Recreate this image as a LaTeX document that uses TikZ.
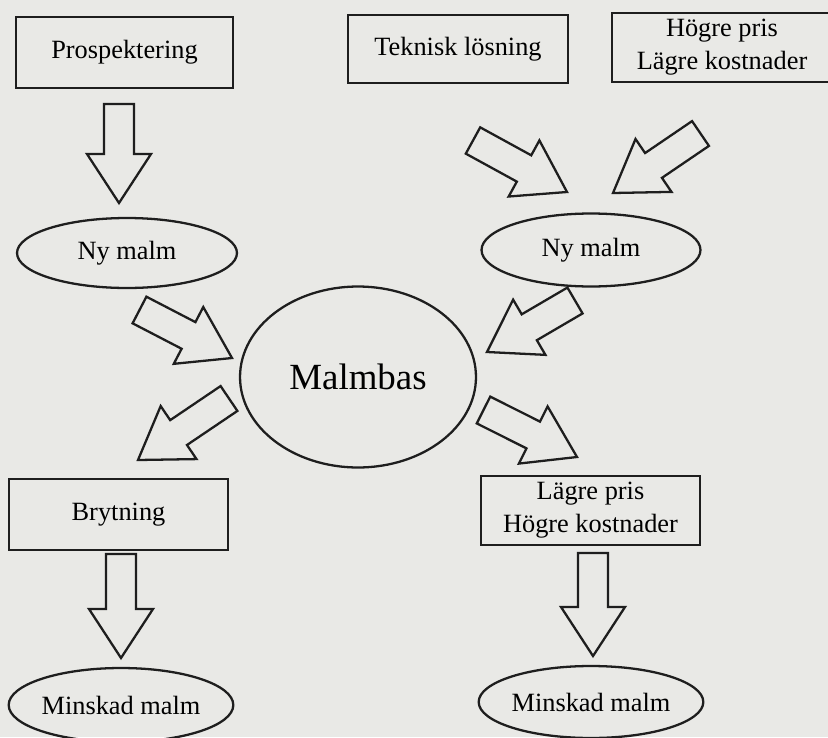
\documentclass[tikz,border=0pt]{standalone}
\usepackage{fontspec}
\setmainfont{Liberation Serif}
\usetikzlibrary{calc,shapes.geometric}
\definecolor{paper}{RGB}{233,233,230}
\definecolor{ink}{RGB}{30,30,30}
\tikzset{
  box/.style={draw=ink,line width=1.3pt,rectangle,minimum width=#1,minimum height=1.4cm,
    align=center,inner sep=0pt,font=\fontsize{15}{18.8}\selectfont},
  box/.default=4.36cm,
  oval/.style={draw=ink,line width=1.3pt,ellipse,minimum width=#1,minimum height=1.44cm,
    inner sep=0pt,font=\fontsize{15}{18.8}\selectfont},
  oval/.default=4.38cm,
  % hollow block arrow from tail to tip
  bigarrow/.style={draw=ink,line width=1.3pt,line join=miter,
    to path={let \p1=($(\tikztotarget)!0.98cm!(\tikztostart)$) in
      ($(\tikztostart)!0.3cm!90:(\tikztotarget)$) --
      ($(\p1)!0.3cm!-90:(\tikztostart)$) --
      ($(\p1)!0.64cm!-90:(\tikztostart)$) --
      (\tikztotarget) --
      ($(\p1)!0.64cm!90:(\tikztostart)$) --
      ($(\p1)!0.3cm!90:(\tikztostart)$) --
      ($(\tikztostart)!0.3cm!-90:(\tikztotarget)$) -- cycle}},
}
\begin{document}
\begin{tikzpicture}[x=0.02cm,y=-0.02cm]
  \fill[paper] (0,0) rectangle (828,737);
  \useasboundingbox (0,0) rectangle (828,737);

  % top row
  \node[box=4.34cm,minimum height=1.42cm] (prosp) at (124.5,52.5) {Prospektering};
  \node[box=4.4cm,minimum height=1.36cm] (tek) at (458,49) {Teknisk lösning};
  \node[box=4.4cm,minimum height=1.38cm] (hpris) at (722,47.5) {Högre pris\\Lägre kostnader};

  % new ore
  \node[oval=4.4cm,minimum height=1.4cm] (nyL) at (127,253) {Ny malm};
  \node[oval=4.38cm,minimum height=1.46cm] (nyR) at (591,250) {Ny malm};

  % ore base
  \node[oval=4.72cm,minimum height=3.62cm,font=\fontsize{21}{25}\selectfont] (malm) at (358,377) {Malmbas};

  % losses
  \node[box=4.38cm,minimum height=1.42cm] (bryt) at (118.5,514.5) {Brytning};
  \node[box=4.38cm,minimum height=1.38cm] (lpris) at (590.5,510.5) {Lägre pris\\Högre kostnader};
  \node[oval=4.36cm,minimum height=1.48cm] (minL) at (121,705) {Minskad malm};
  \node[oval=4.38cm,minimum height=1.44cm] (minR) at (591,702) {Minskad malm};

  % arrow ends
  \coordinate (s1) at (119,104);   \coordinate (e1) at (119,203);
  \coordinate (s2) at (473,140.5); \coordinate (e2) at (567,192);
  \coordinate (s3) at (700.5,133.5); \coordinate (e3) at (613,193);
  \coordinate (s4) at (139.5,310); \coordinate (e4) at (232,358);
  \coordinate (s5) at (575,300.5); \coordinate (e5) at (487,352);
  \coordinate (s6) at (229,398.5); \coordinate (e6) at (138,460);
  \coordinate (s7) at (483.5,410); \coordinate (e7) at (577,457);
  \coordinate (s8) at (121,554);   \coordinate (e8) at (121,658);
  \coordinate (s9) at (593,553);   \coordinate (e9) at (593,656);

  \foreach \i in {1,...,9}
    \draw[bigarrow] (s\i) to (e\i);
\end{tikzpicture}
\end{document}
